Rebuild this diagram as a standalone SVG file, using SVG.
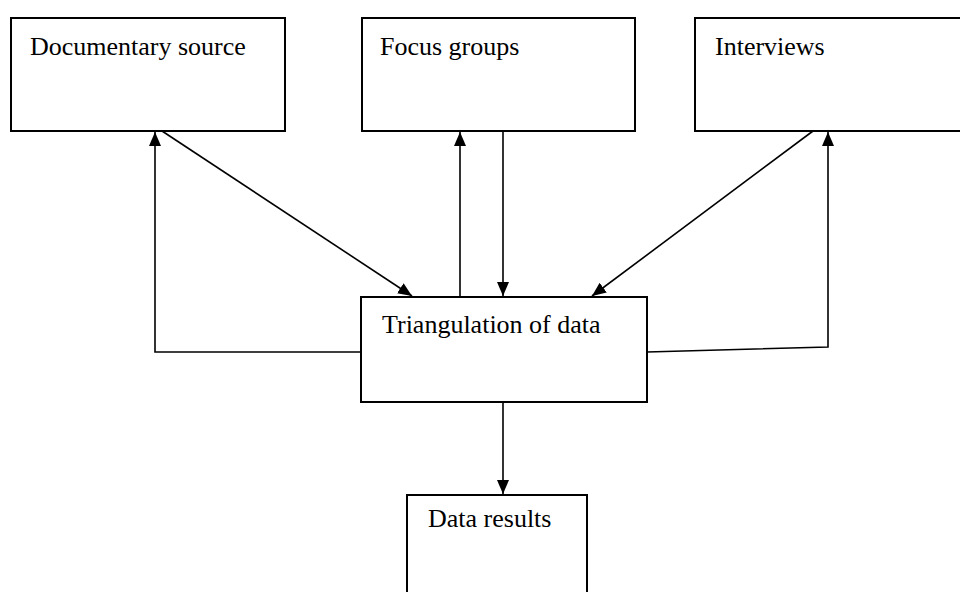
<svg xmlns="http://www.w3.org/2000/svg" width="960" height="592" viewBox="0 0 960 592">
  <style>
    .box { fill: #fff; stroke: #000; stroke-width: 2; }
    .lbl { font-family: "Liberation Serif", "Times New Roman", serif; font-size: 26px; fill: #000; }
    .wire { fill: none; stroke: #000; stroke-width: 1.6; }
  </style>
  <defs>
    <marker id="head" markerUnits="userSpaceOnUse" markerWidth="14" markerHeight="14" viewBox="0 0 14 14" refX="14" refY="7" orient="auto">
      <path d="M0,1 L14,7 L0,13 Z" fill="#000"/>
    </marker>
  </defs>
  <rect width="960" height="592" fill="#fff"/>

  <g id="connectors">
    <!-- left feedback loop to documentary source -->
    <polyline class="wire" points="361,352 155,352 155,132" marker-end="url(#head)"/>
    <!-- documentary source into triangulation -->
    <line class="wire" x1="162" y1="131" x2="412" y2="296" marker-end="url(#head)"/>
    <!-- focus groups pair -->
    <line class="wire" x1="460" y1="297" x2="460" y2="132" marker-end="url(#head)"/>
    <line class="wire" x1="503" y1="131" x2="503" y2="296" marker-end="url(#head)"/>
    <!-- interviews into triangulation -->
    <line class="wire" x1="813" y1="131" x2="592" y2="296" marker-end="url(#head)"/>
    <!-- right feedback loop to interviews -->
    <polyline class="wire" points="647,352 828,347 828,132" marker-end="url(#head)"/>
    <!-- triangulation to results -->
    <line class="wire" x1="503" y1="402" x2="503" y2="494" marker-end="url(#head)"/>
  </g>

  <g id="documentary-source">
    <rect class="box" x="11" y="18" width="274" height="113"/>
    <text class="lbl" x="30" y="55">Documentary source</text>
  </g>
  <g id="focus-groups">
    <rect class="box" x="362" y="18" width="273" height="113"/>
    <text class="lbl" x="380" y="55">Focus groups</text>
  </g>
  <g id="interviews">
    <rect class="box" x="695" y="18" width="280" height="113"/>
    <text class="lbl" x="715" y="55">Interviews</text>
  </g>
  <g id="triangulation">
    <rect class="box" x="361" y="297" width="286" height="105"/>
    <text class="lbl" x="382" y="333">Triangulation of data</text>
  </g>
  <g id="data-results">
    <rect class="box" x="407" y="495" width="180" height="110"/>
    <text class="lbl" x="428" y="527">Data results</text>
  </g>
</svg>
